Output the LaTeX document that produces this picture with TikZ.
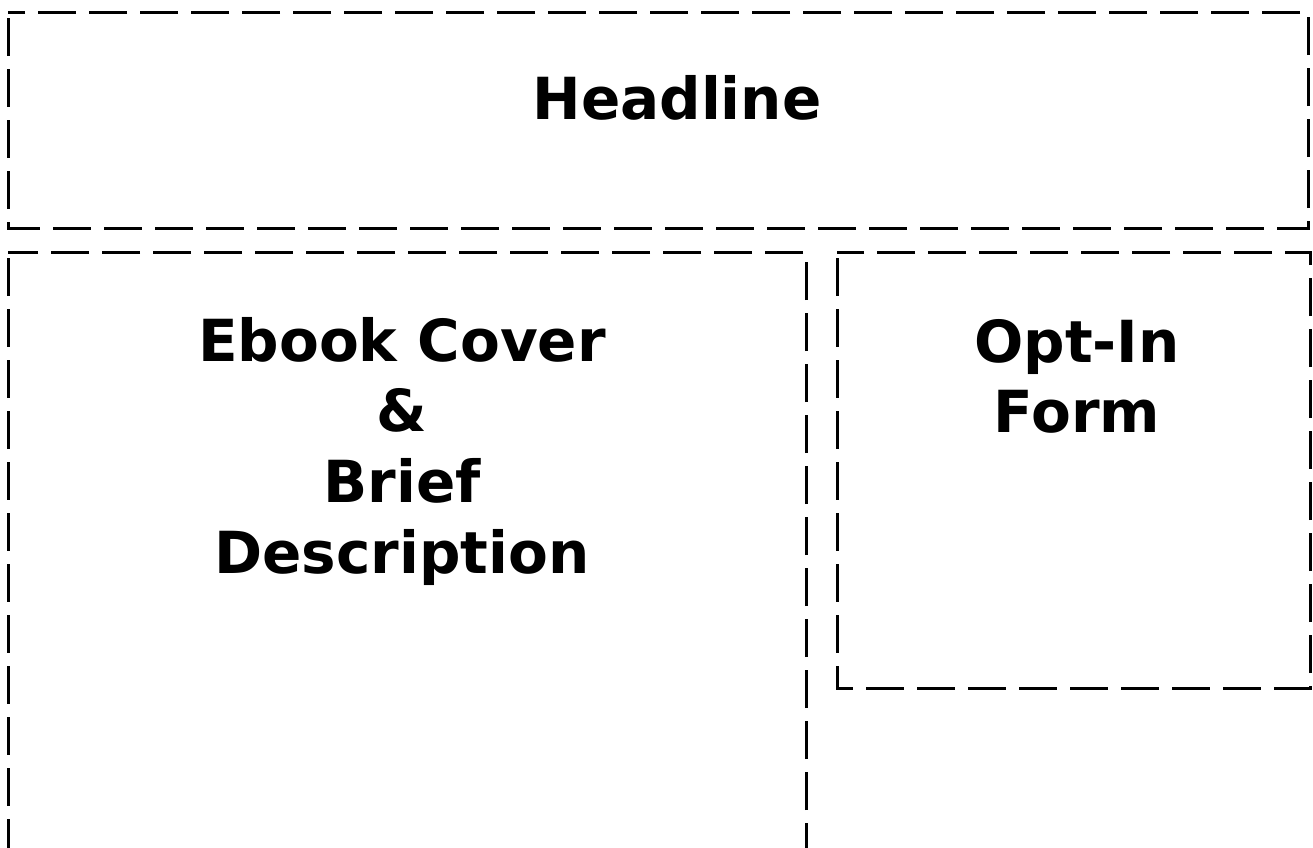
\documentclass[tikz,border=0pt]{standalone}
\usepackage{fontspec}
\setmainfont{DejaVu Sans}
\tikzset{
  zone/.style={draw=black, line width=3pt, dash pattern=on 38pt off 13pt, dash phase=45pt},
  big/.style={font=\fontsize{58}{71}\selectfont\bfseries, inner sep=0pt, anchor=base}
}
\begin{document}
\begin{tikzpicture}[x=1pt,y=-1pt]
\useasboundingbox (0,0) rectangle (1313,847);
\clip (0,0) rectangle (1313,847);
\fill[white] (0,0) rectangle (1313,847);
\draw[zone] (8,12) rectangle (1308,228);
\draw[zone] (8,252) rectangle (806,900);
\draw[zone] (837,252) rectangle (1310,688);
\node[big] (headline) at (677,119) {Headline};
\node[big] (l1) at (402,361) {Ebook Cover};
\node[big] (l2) at (402,431) {\&};
\node[big] (l3) at (402,502) {Brief};
\node[big] (l4) at (402,573) {Description};
\node[big] (r1) at (1077,362) {Opt-In};
\node[big] (r2) at (1077,432) {Form};
\end{tikzpicture}
\end{document}
